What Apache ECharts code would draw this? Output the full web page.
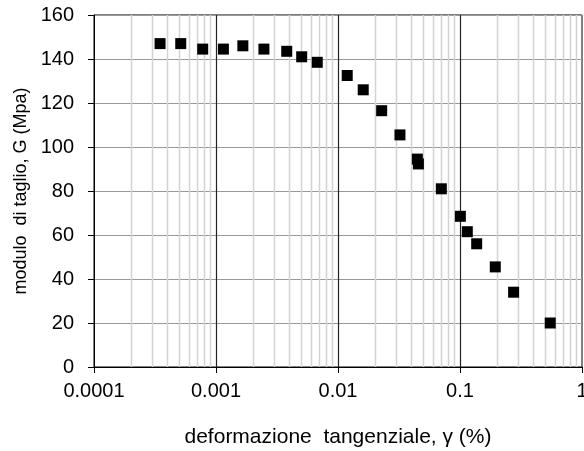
<!DOCTYPE html>
<html><head><meta charset="utf-8">
<script src="https://cdn.jsdelivr.net/npm/echarts@6/dist/echarts.min.js"></script>
<style>html,body{margin:0;padding:0;background:#fff}#c{width:584px;height:451px}</style>
</head><body><div id="c"></div>
<script>
const strain = [0.000348,0.000514,0.000778,0.00115,0.00166,0.00247,0.0038,0.00504,0.00676,0.0119,0.0161,0.0228,0.0322,0.0447,0.0456,0.0703,0.1007,0.1148,0.137,0.1946,0.275,0.549];
const modulus = [147,147,144.5,144.5,146,144.5,143.5,141,138.5,132.5,126,116.5,105.5,94.5,92.3,81,68.5,61.5,56,45.5,34,20];
const xTickLabels = ['0.0001','0.001','0.01','0.1','1'];
const yTicks = [0,20,40,60,80,100,120,140,160];
const xTitle = 'deformazione  tangenziale, γ (%)';
const yTitle = 'modulo  di taglio, G (Mpa)';

// gridline positions (minor: 2..9 within each decade; major: decades)
const minorX = [];
for (let d = -4; d < 0; d++) for (let k = 2; k <= 9; k++) minorX.push(k * Math.pow(10, d));
const majorX = [0.001, 0.01, 0.1];

const font = 'Liberation Sans';
const yMin = yTicks[0], yMax = yTicks[yTicks.length - 1];

function vLines(color, width) {
  return function (params, api) {
    const x = api.value(0);
    const p0 = api.coord([x, yMin]);
    const p1 = api.coord([x, yMax]);
    const xx = Math.round(p0[0]) + 0.5;
    return {type: 'line', shape: {x1: xx, y1: p0[1], x2: xx, y2: p1[1]},
      style: {stroke: color, lineWidth: width}, silent: true};
  };
}

const chart = echarts.init(document.getElementById('c'), null, {renderer: 'canvas'});
chart.setOption({
  animation: false,
  backgroundColor: '#fff',
  grid: {left: 94, right: 2, top: 15, bottom: 84, show: true, borderColor: '#000', borderWidth: 1,
    containLabel: false, outerBoundsMode: 'none'},
  xAxis: {
    type: 'log', logBase: 10, min: 0.0001, max: 1,
    name: xTitle, nameLocation: 'middle', nameGap: 60,
    nameTextStyle: {fontFamily: font, fontSize: 21, color: '#000'},
    axisLine: {lineStyle: {color: '#000', width: 1}},
    axisTick: {show: true, inside: false, length: 6, lineStyle: {color: '#000'}},
    axisLabel: {fontFamily: font, fontSize: 20, color: '#000', margin: 14,
      formatter: v => xTickLabels[Math.round(Math.log10(v)) + 4]},
    splitLine: {show: false},
    minorTick: {show: false}, minorSplitLine: {show: false}
  },
  yAxis: {
    type: 'value', min: yMin, max: yMax, interval: 20,
    name: yTitle, nameLocation: 'middle', nameGap: 64, nameRotate: 90,
    nameTextStyle: {fontFamily: font, fontSize: 18, color: '#000'},
    axisLine: {show: true, lineStyle: {color: '#000', width: 1}},
    axisTick: {show: true, inside: false, length: 6, lineStyle: {color: '#000'}},
    axisLabel: {fontFamily: font, fontSize: 20, color: '#000', margin: 20},
    splitLine: {show: true, lineStyle: {color: '#999', width: 1}}
  },
  series: [
    {type: 'custom', renderItem: vLines('#d3d3d3', 1.5), data: minorX.map(v => [v]), z: 1, silent: true, clip: true},
    {type: 'custom', renderItem: vLines('#222', 1.2), data: majorX.map(v => [v]), z: 2, silent: true, clip: true},
    {
      type: 'scatter',
      symbol: 'rect', symbolSize: 11,
      itemStyle: {color: '#000', opacity: 1},
      data: strain.map((x, i) => [x, modulus[i]]),
      z: 5
    }
  ]
});
</script></body></html>
